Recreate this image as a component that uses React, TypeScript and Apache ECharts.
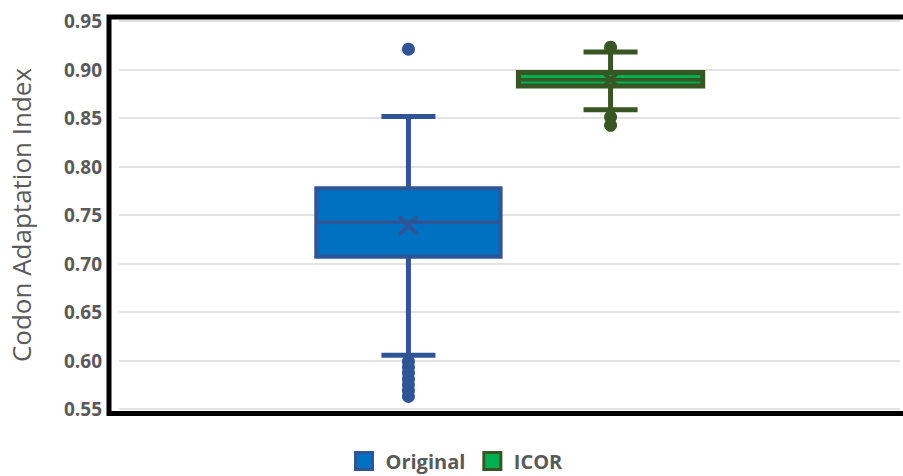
import React, { useEffect, useRef } from 'react';
import * as echarts from 'echarts';

const seriesNames = ['Original', 'ICOR'];
const whiskerLow = [0.6055, 0.8585];
const q1 = [0.707, 0.883];
const median = [0.7425, 0.8895];
const q3 = [0.7775, 0.897];
const whiskerHigh = [0.8515, 0.918];
const means = [0.739, 0.8895];
const outliersOriginal = [0.921, 0.599, 0.593, 0.587, 0.581, 0.575, 0.569, 0.563];
const outliersIcor = [0.923, 0.851, 0.8425];
const outliers = [outliersOriginal, outliersIcor];
const yMin = 0.55;
const yMax = 0.95;
const yStep = 0.05;

const fills = ['#0070C0', '#00B050'];
const borders = ['#2F5597', '#375623'];
const boxLineWidths = [4, 5];
const FONT = '"Open Sans", "Noto Sans", sans-serif';

export default function App() {
  const ref = useRef<HTMLDivElement>(null);
  useEffect(() => {
    if (!ref.current) return;
    const chart = echarts.init(ref.current, undefined, { renderer: 'svg' });

    const renderItem = (params: any, api: any) => {
      const i = params.seriesIndex;
      const band = api.size([1, 0])[0];
      const base = api.coord([0, yMin])[0];
      const cx = base + (i === 0 ? -1 : 1) * band * 0.1294;
      const halfBox = band * 0.118;
      const halfCap = 27;
      const y = (v: number) => api.coord([0, v])[1];
      const stroke = borders[i];
      const children: any[] = [];
      const ln = (x1: number, y1: number, x2: number, y2: number, w: number) => ({
        type: 'line',
        shape: { x1, y1, x2, y2 },
        style: { stroke, lineWidth: w, fill: null },
      });
      children.push(ln(cx, y(q3[i]), cx, y(whiskerHigh[i]), 5));
      children.push(ln(cx, y(q1[i]), cx, y(whiskerLow[i]), 5));
      children.push(ln(cx - halfCap, y(whiskerHigh[i]), cx + halfCap, y(whiskerHigh[i]), 5));
      children.push(ln(cx - halfCap, y(whiskerLow[i]), cx + halfCap, y(whiskerLow[i]), 5));
      children.push({
        type: 'rect',
        shape: { x: cx - halfBox, y: y(q3[i]), width: halfBox * 2, height: y(q1[i]) - y(q3[i]) },
        style: { fill: fills[i], stroke, lineWidth: boxLineWidths[i] },
      });
      children.push(ln(cx - halfBox, y(median[i]), cx + halfBox, y(median[i]), 3.5));
      const my = y(means[i]);
      const m = i === 0 ? 9 : 6;
      children.push(ln(cx - m, my - m, cx + m, my + m, 4));
      children.push(ln(cx - m, my + m, cx + m, my - m, 4));
      outliers[i].forEach((v) => {
        children.push({
          type: 'circle',
          shape: { cx, cy: y(v), r: 6.5 },
          style: { fill: stroke },
        });
      });
      return { type: 'group', children };
    };

    chart.setOption({
      animation: false,
      grid: { left: 112, right: 3, top: 21, bottom: 67, show: false },
      xAxis: {
        type: 'category',
        data: [''],
        axisLine: { show: false },
        axisTick: { show: false },
        axisLabel: { show: false },
      },
      yAxis: {
        type: 'value',
        min: yMin,
        max: yMax,
        interval: yStep,
        name: 'Codon Adaptation Index',
        nameLocation: 'middle',
        nameGap: 85,
        nameTextStyle: { color: '#595959', fontSize: 26, fontFamily: FONT },
        axisLine: { show: false },
        axisTick: { show: false },
        axisLabel: {
          color: '#595959',
          fontSize: 19,
          fontWeight: 'bold',
          fontFamily: FONT,
          margin: 17,
          formatter: (v: number) => v.toFixed(2),
        },
        splitLine: { lineStyle: { color: '#D9D9D9', width: 1.5 } },
      },
      legend: {
        left: 354,
        top: 450,
        padding: 0,
        itemWidth: 17,
        itemHeight: 17,
        itemGap: 17,
        textStyle: {
          color: '#595959',
          fontSize: 20,
          lineHeight: 22,
          fontWeight: 'bold',
          fontFamily: FONT,
          padding: [0, 0, 0, 8],
        },
        data: seriesNames.map((n, i) => ({
          name: n,
          icon: 'rect',
          itemStyle: { color: fills[i], borderColor: borders[i], borderWidth: 3 },
        })),
      },
      graphic: [
        {
          type: 'rect',
          shape: { x: 109, y: 17, width: 820, height: 396.5 },
          style: { fill: null, stroke: '#000', lineWidth: 5 },
          z: 100,
        },
      ],
      series: seriesNames.map((n, i) => ({
        name: n,
        type: 'custom',
        renderItem,
        itemStyle: { color: fills[i], borderColor: borders[i], borderWidth: 3 },
        data: [[0, whiskerLow[i], q1[i], median[i], q3[i], whiskerHigh[i], means[i]]],
        encode: { x: 0, y: [1, 2, 3, 4, 5, 6] },
      })),
    });
    return () => chart.dispose();
  }, []);
  return (
    <div
      ref={ref}
      style={{ position: 'fixed', left: 0, top: 0, width: 903, height: 476, background: '#fff' }}
    />
  );
}
